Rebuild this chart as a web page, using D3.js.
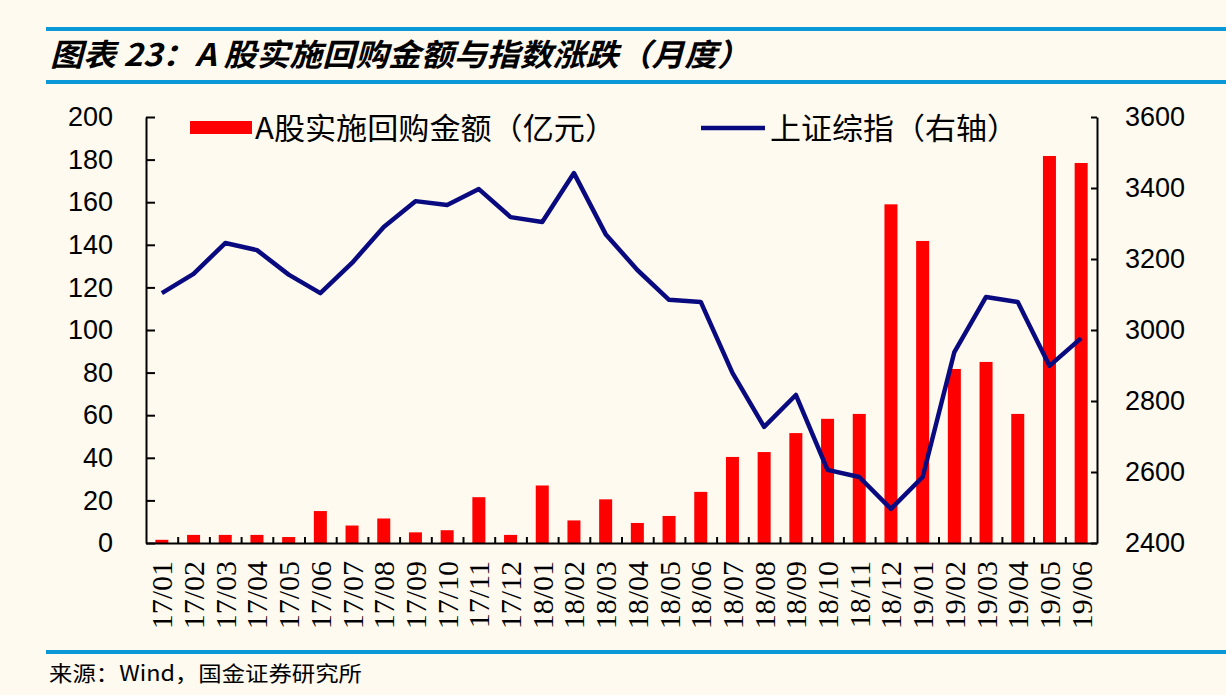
<!DOCTYPE html>
<meta charset="utf-8">
<style>
    body { margin: 0; background: #fefaf0; }
    svg { display: block; }
    .axis text { font-family: "Liberation Sans", Arial, sans-serif; font-size: 27px; fill: #000; }
    .axis path, .axis line { stroke: #000; stroke-width: 2; }
    .xlab text { font-family: "Liberation Serif", "Times New Roman", serif; font-size: 30px; fill: #000; }
    .cjk { font-family: "Noto Sans CJK SC", sans-serif; fill: #000; }
</style>
<body>
<svg id="chart" width="1226" height="695"></svg>
<script src="https://d3js.org/d3.v7.min.js"></script>
<script>
    // months shown on the x axis
    var months = ["17/01","17/02","17/03","17/04","17/05","17/06","17/07","17/08","17/09","17/10","17/11","17/12",
        "18/01","18/02","18/03","18/04","18/05","18/06","18/07","18/08","18/09","18/10","18/11","18/12",
        "19/01","19/02","19/03","19/04","19/05","19/06"];
    // A股实施回购金额（亿元）
    var buyback = [1.5, 3.8, 3.8, 3.8, 2.8, 15, 8.2, 11.5, 5, 6, 21.5, 3.8,
        27, 10.6, 20.5, 9.4, 12.7, 24, 40.4, 42.7, 51.6, 58.3, 60.6, 159,
        141.8, 81.7, 85, 60.6, 181.7, 178.4];
    // 上证综指（右轴）
    var sse = [3104, 3158, 3245, 3225, 3156, 3104, 3189, 3290, 3363, 3352, 3397, 3318,
        3304, 3442, 3270, 3169, 3085, 3079, 2879, 2727, 2817, 2606, 2586, 2496,
        2586, 2938, 3093, 3079, 2899, 2977];
    var leftTicks = [0, 20, 40, 60, 80, 100, 120, 140, 160, 180, 200];
    var rightTicks = [2400, 2600, 2800, 3000, 3200, 3400, 3600];

    var plotL = 146, plotR = 1097, plotT = 117, plotB = 543;
    var svg = d3.select("#chart");

    var x = d3.scaleBand().domain(months).range([plotL, plotR]).padding(0);
    var xi = d3.scaleLinear().domain([0, months.length]).range([plotL, plotR]);
    var yL = d3.scaleLinear().domain([0, 200]).range([plotB, plotT]);
    var yR = d3.scaleLinear().domain([2400, 3600]).range([plotB, plotT]);

    // header + footer rules
    svg.append("rect").attr("x", 46).attr("y", 27).attr("width", 1180).attr("height", 4).attr("fill", "#0b98d6");
    svg.append("rect").attr("x", 46).attr("y", 80).attr("width", 1180).attr("height", 4).attr("fill", "#0b98d6");
    svg.append("rect").attr("x", 46).attr("y", 650).attr("width", 1180).attr("height", 4).attr("fill", "#0b98d6");

    svg.append("text").attr("class", "cjk")
        .attr("x", 50).attr("y", 66)
        .attr("textLength", 700).attr("lengthAdjust", "spacingAndGlyphs")
        .style("font-size", "31px").style("font-weight", "bold").style("font-style", "italic")
        .text("图表 23：A 股实施回购金额与指数涨跌（月度）");

    svg.append("text").attr("class", "cjk")
        .attr("x", 49).attr("y", 681)
        .attr("textLength", 313).attr("lengthAdjust", "spacingAndGlyphs")
        .style("font-size", "21px")
        .text("来源：Wind，国金证券研究所");

    // bars
    var bw = 13;
    svg.append("g").selectAll("rect")
        .data(buyback)
        .enter().append("rect")
        .attr("x", function(d, i) { return x(months[i]) + x.bandwidth() / 2 - bw / 2; })
        .attr("y", function(d) { return yL(d); })
        .attr("width", bw)
        .attr("height", function(d) { return yL(0) - yL(d); })
        .attr("fill", "#ff0000");

    // line
    var line = d3.line()
        .x(function(d, i) { return x(months[i]) + x.bandwidth() / 2; })
        .y(function(d) { return yR(d); });
    svg.append("path")
        .datum(sse)
        .attr("d", line)
        .attr("fill", "none")
        .attr("stroke", "#0a0a80")
        .attr("stroke-width", 4.5)
        .attr("stroke-linejoin", "round");

    // axes
    svg.append("g").attr("class", "axis")
        .attr("transform", "translate(" + plotL + ",0)")
        .call(d3.axisLeft(yL).tickValues(leftTicks).tickSizeInner(-9).tickSizeOuter(0).tickPadding(33));
    svg.append("g").attr("class", "axis")
        .attr("transform", "translate(" + plotR + ",0)")
        .call(d3.axisRight(yR).tickValues(rightTicks).tickFormat(d3.format("d"))
            .tickSizeInner(-6).tickSizeOuter(0).tickPadding(28));
    svg.append("g").attr("class", "axis")
        .attr("transform", "translate(0," + plotB + ")")
        .call(d3.axisBottom(xi).tickValues(d3.range(1, months.length)).tickSizeInner(-6).tickSizeOuter(0).tickFormat(""));

    var xl = svg.append("g").attr("class", "xlab")
        .attr("transform", "translate(0," + plotB + ")")
        .call(d3.axisBottom(x).tickSize(0).tickPadding(0));
    xl.select(".domain").remove();
    xl.selectAll("text")
        .attr("transform", "rotate(-90)")
        .attr("x", -18).attr("y", 0).attr("dy", "0.35em")
        .style("text-anchor", "end");

    // legend
    var lg = svg.append("g");
    lg.append("rect").attr("x", 190).attr("y", 121).attr("width", 62).attr("height", 13).attr("fill", "#ff0000");
    lg.append("text").attr("class", "cjk").attr("x", 255).attr("y", 139)
        .attr("textLength", 361).attr("lengthAdjust", "spacingAndGlyphs")
        .style("font-size", "30px").text("A股实施回购金额（亿元）");
    lg.append("line").attr("x1", 701).attr("x2", 765).attr("y1", 128).attr("y2", 128)
        .attr("stroke", "#0a0a80").attr("stroke-width", 4.5);
    lg.append("text").attr("class", "cjk").attr("x", 770).attr("y", 139)
        .attr("textLength", 248).attr("lengthAdjust", "spacingAndGlyphs")
        .style("font-size", "30px").text("上证综指（右轴）");
</script>
</body>
